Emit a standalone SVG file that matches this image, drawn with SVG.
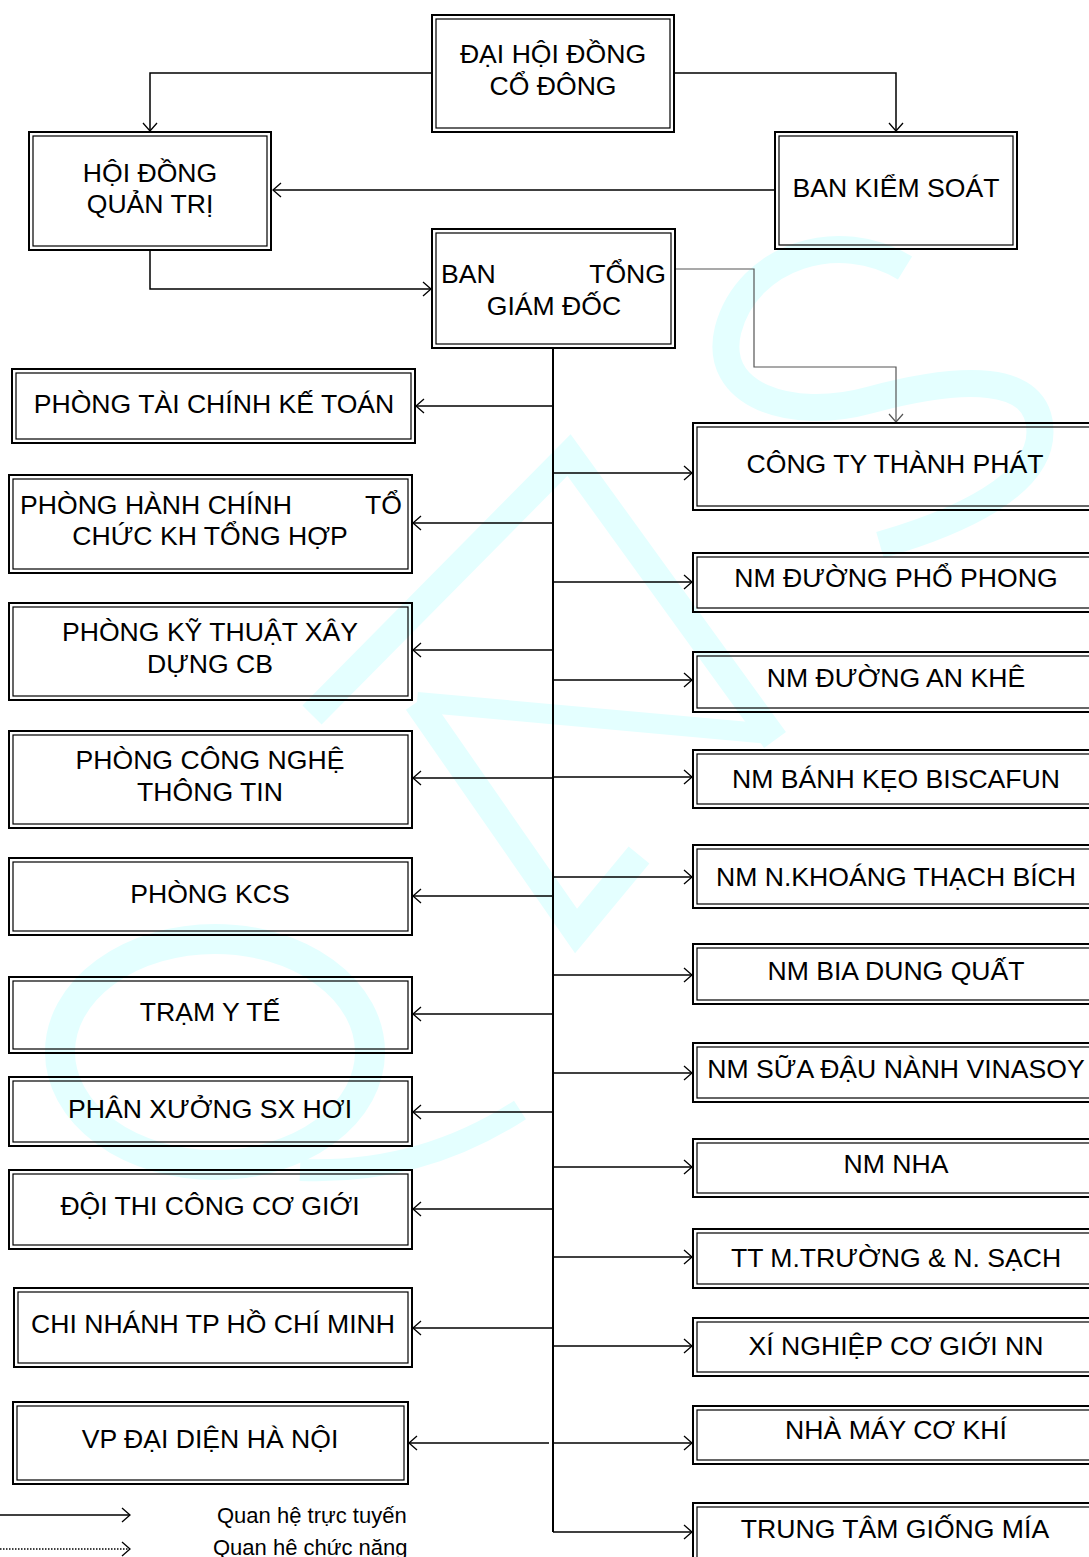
<svg xmlns="http://www.w3.org/2000/svg" width="1089" height="1557" viewBox="0 0 1089 1557">
<style>
.ob{fill:none;stroke:#000;stroke-width:2}
.ib{fill:none;stroke:#000;stroke-width:1.2}
.t{font-family:"Liberation Sans",Arial,sans-serif;font-size:26.6px;fill:#000;text-anchor:middle}
.ts{text-anchor:start}
.te{text-anchor:end}
.lg{font-family:"Liberation Sans",Arial,sans-serif;font-size:22px;fill:#000}
.c{fill:none;stroke:#000;stroke-width:1.5;marker-end:url(#arr)}
.cf{fill:none;stroke:#555;stroke-width:1.2;marker-end:url(#arrg)}
.trunk{fill:none;stroke:#000;stroke-width:2}
.wm{fill:none;stroke:#e4ffff;stroke-width:27}
</style>
<defs>
<marker id="arr" markerUnits="userSpaceOnUse" markerWidth="20" markerHeight="20" refX="0" refY="0" orient="auto" overflow="visible"><path d="M-8,-7 L0,0 L-8,7" fill="none" stroke="#000" stroke-width="1.3"/></marker>
<marker id="arrg" markerUnits="userSpaceOnUse" markerWidth="20" markerHeight="20" refX="0" refY="0" orient="auto" overflow="visible"><path d="M-8,-7 L0,0 L-8,7" fill="none" stroke="#555" stroke-width="1.2"/></marker>
</defs>
<rect width="1089" height="1557" fill="#fff"/>
<g id="watermark">
<path class="wm" d="M905,268 C840,228 748,255 728,330 C712,395 790,422 870,400 C960,376 1040,372 1040,432 C1040,485 960,522 880,545"/>
<path class="wm" d="M312,715 L569,455 L775,740"/>
<path class="wm" style="stroke-width:20" d="M417,702 L771,734"/>
<path class="wm" d="M417,702 L576,931 L639,855"/>
<ellipse class="wm" style="stroke-width:30" cx="215" cy="1052" rx="155" ry="113"/>
<path class="wm" style="stroke-width:22" d="M300,1170 Q420,1175 520,1110"/>
</g>
<g id="connectors">
<path class="c" d="M432,73 H150 V131"/>
<path class="c" d="M674,73 H896 V131"/>
<path class="c" d="M775,190 H273"/>
<path class="c" d="M150,250 V289 H431"/>
<path class="cf" d="M675,269 H754 V367 H896 V422"/>
<path class="trunk" d="M553,348 V1532"/>
<path class="c" d="M553,406 H416"/>
<path class="c" d="M553,523 H413"/>
<path class="c" d="M553,650 H413"/>
<path class="c" d="M553,778 H413"/>
<path class="c" d="M553,896 H413"/>
<path class="c" d="M553,1014 H413"/>
<path class="c" d="M553,1112 H413"/>
<path class="c" d="M553,1209 H413"/>
<path class="c" d="M553,1328 H413"/>
<path class="c" d="M549,1443 H409"/>
<path class="c" d="M553,473 H692"/>
<path class="c" d="M553,582 H692"/>
<path class="c" d="M553,680 H692"/>
<path class="c" d="M553,777 H692"/>
<path class="c" d="M553,877 H692"/>
<path class="c" d="M553,975 H692"/>
<path class="c" d="M553,1073 H692"/>
<path class="c" d="M553,1167 H692"/>
<path class="c" d="M553,1257 H692"/>
<path class="c" d="M553,1346 H692"/>
<path class="c" d="M553,1443 H692"/>
<path class="c" d="M553,1532 H692"/>
</g>
<g id="dhdcd"><rect class="ob" x="432" y="15" width="242" height="117"/><rect class="ib" x="436" y="19" width="234" height="109"/><text class="t" x="553" y="63">ĐẠI HỘI ĐỒNG</text><text class="t" x="553" y="95">CỔ ĐÔNG</text></g>
<g id="hdqt"><rect class="ob" x="29" y="132" width="242" height="118"/><rect class="ib" x="33" y="136" width="234" height="110"/><text class="t" x="150" y="182">HỘI ĐỒNG</text><text class="t" x="150" y="213">QUẢN TRỊ</text></g>
<g id="bks"><rect class="ob" x="775" y="132" width="242" height="117"/><rect class="ib" x="779" y="136" width="234" height="109"/><text class="t" x="896" y="197">BAN KIỂM SOÁT</text></g>
<g id="btgd"><rect class="ob" x="432" y="229" width="243" height="119"/><rect class="ib" x="436" y="233" width="235" height="111"/><text class="t ts" x="441" y="283">BAN</text><text class="t te" x="666" y="283">TỔNG</text><text class="t" x="554" y="315">GIÁM ĐỐC</text></g>
<g id="l1"><rect class="ob" x="12" y="369" width="403" height="74"/><rect class="ib" x="16" y="373" width="395" height="66"/><text class="t" x="214" y="413">PHÒNG TÀI CHÍNH KẾ TOÁN</text></g>
<g id="l2"><rect class="ob" x="9" y="475" width="403" height="98"/><rect class="ib" x="13" y="479" width="395" height="90"/><text class="t ts" x="20" y="514">PHÒNG HÀNH CHÍNH</text><text class="t te" x="402" y="514">TỔ</text><text class="t" x="210" y="545">CHỨC KH TỔNG HỢP</text></g>
<g id="l3"><rect class="ob" x="9" y="603" width="403" height="97"/><rect class="ib" x="13" y="607" width="395" height="89"/><text class="t" x="210" y="641">PHÒNG KỸ THUẬT XÂY</text><text class="t" x="210" y="673">DỰNG CB</text></g>
<g id="l4"><rect class="ob" x="9" y="731" width="403" height="97"/><rect class="ib" x="13" y="735" width="395" height="89"/><text class="t" x="210" y="769">PHÒNG CÔNG NGHỆ</text><text class="t" x="210" y="801">THÔNG TIN</text></g>
<g id="l5"><rect class="ob" x="9" y="858" width="403" height="77"/><rect class="ib" x="13" y="862" width="395" height="69"/><text class="t" x="210" y="903">PHÒNG KCS</text></g>
<g id="l6"><rect class="ob" x="9" y="977" width="403" height="76"/><rect class="ib" x="13" y="981" width="395" height="68"/><text class="t" x="210" y="1021">TRẠM Y TẾ</text></g>
<g id="l7"><rect class="ob" x="9" y="1077" width="403" height="69"/><rect class="ib" x="13" y="1081" width="395" height="61"/><text class="t" x="210" y="1118">PHÂN XƯỞNG SX HƠI</text></g>
<g id="l8"><rect class="ob" x="9" y="1170" width="403" height="79"/><rect class="ib" x="13" y="1174" width="395" height="71"/><text class="t" x="210" y="1215">ĐỘI THI CÔNG CƠ GIỚI</text></g>
<g id="l9"><rect class="ob" x="14" y="1288" width="398" height="79"/><rect class="ib" x="18" y="1292" width="390" height="71"/><text class="t" x="213" y="1333">CHI NHÁNH TP HỒ CHÍ MINH</text></g>
<g id="l10"><rect class="ob" x="13" y="1402" width="395" height="82"/><rect class="ib" x="17" y="1406" width="387" height="74"/><text class="t" x="210" y="1448">VP ĐẠI DIỆN HÀ NỘI</text></g>
<g id="r1"><rect class="ob" x="693" y="423" width="420" height="87"/><rect class="ib" x="697" y="427" width="412" height="79"/><text class="t" x="895" y="473">CÔNG TY THÀNH PHÁT</text></g>
<g id="r2"><rect class="ob" x="693" y="553" width="420" height="59"/><rect class="ib" x="697" y="557" width="412" height="51"/><text class="t" x="896" y="587">NM ĐƯỜNG PHỔ PHONG</text></g>
<g id="r3"><rect class="ob" x="693" y="652" width="420" height="60"/><rect class="ib" x="697" y="656" width="412" height="52"/><text class="t" x="896" y="687">NM ĐƯỜNG AN KHÊ</text></g>
<g id="r4"><rect class="ob" x="693" y="750" width="420" height="58"/><rect class="ib" x="697" y="754" width="412" height="50"/><text class="t" x="896" y="788">NM BÁNH KẸO BISCAFUN</text></g>
<g id="r5"><rect class="ob" x="693" y="845" width="420" height="63"/><rect class="ib" x="697" y="849" width="412" height="55"/><text class="t" x="896" y="886">NM N.KHOÁNG THẠCH BÍCH</text></g>
<g id="r6"><rect class="ob" x="693" y="944" width="420" height="60"/><rect class="ib" x="697" y="948" width="412" height="52"/><text class="t" x="896" y="980">NM BIA DUNG QUẤT</text></g>
<g id="r7"><rect class="ob" x="693" y="1043" width="420" height="59"/><rect class="ib" x="697" y="1047" width="412" height="51"/><text class="t" x="896" y="1078">NM SỮA ĐẬU NÀNH VINASOY</text></g>
<g id="r8"><rect class="ob" x="693" y="1139" width="420" height="58"/><rect class="ib" x="697" y="1143" width="412" height="50"/><text class="t" x="896" y="1173">NM NHA</text></g>
<g id="r9"><rect class="ob" x="693" y="1229" width="420" height="59"/><rect class="ib" x="697" y="1233" width="412" height="51"/><text class="t" x="896" y="1267">TT M.TRƯỜNG &amp; N. SẠCH</text></g>
<g id="r10"><rect class="ob" x="693" y="1318" width="420" height="58"/><rect class="ib" x="697" y="1322" width="412" height="50"/><text class="t" x="896" y="1355">XÍ NGHIỆP CƠ GIỚI NN</text></g>
<g id="r11"><rect class="ob" x="693" y="1406" width="420" height="58"/><rect class="ib" x="697" y="1410" width="412" height="50"/><text class="t" x="896" y="1439">NHÀ MÁY CƠ KHÍ</text></g>
<g id="r12"><rect class="ob" x="693" y="1503" width="420" height="100"/><rect class="ib" x="697" y="1507" width="412" height="92"/><text class="t" x="895" y="1538">TRUNG TÂM GIỐNG MÍA</text></g>
<g id="legend">
<path class="c" d="M0,1515 H130"/>
<path class="c" style="stroke-dasharray:1.5,1.5;stroke-width:1.4" d="M0,1549 H130"/>
<text class="lg" x="217" y="1523">Quan hệ trực tuyến</text>
<text class="lg" x="213" y="1555">Quan hê chức năng</text>
</g>
</svg>
